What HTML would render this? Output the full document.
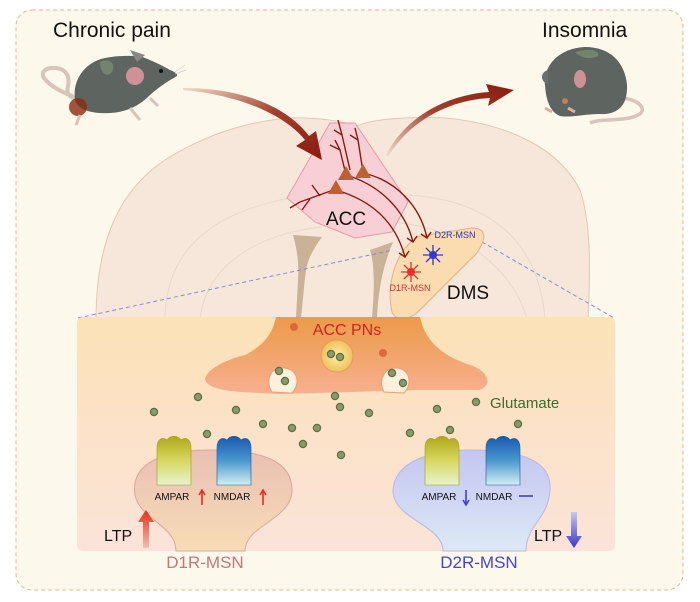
<!DOCTYPE html>
<html><head><meta charset="utf-8"><style>
html,body{margin:0;padding:0;background:#fff;}
svg{display:block;font-family:"Liberation Sans",sans-serif;}
</style></head><body>
<svg width="700" height="602" viewBox="0 0 700 602" xmlns="http://www.w3.org/2000/svg">
<defs>
<linearGradient id="panel" x1="0" y1="0" x2="0" y2="1"><stop offset="0" stop-color="#fce2b6"/><stop offset="1" stop-color="#fbe3da"/></linearGradient>
<linearGradient id="pre" x1="0" y1="0" x2="0" y2="1"><stop offset="0" stop-color="#ec9a48"/><stop offset="1" stop-color="#f7b090"/></linearGradient>
<linearGradient id="d1" x1="0" y1="0" x2="0" y2="1"><stop offset="0" stop-color="#e9c0b4"/><stop offset="1" stop-color="#f8dcb6"/></linearGradient>
<linearGradient id="d2" x1="0" y1="0" x2="0" y2="1"><stop offset="0" stop-color="#c4c6f0"/><stop offset="1" stop-color="#dce8f6"/></linearGradient>
<linearGradient id="amp" x1="0" y1="0" x2="0" y2="1"><stop offset="0" stop-color="#b0a818"/><stop offset="0.5" stop-color="#d8d860"/><stop offset="1" stop-color="#e6f2d0"/></linearGradient>
<linearGradient id="nmd" x1="0" y1="0" x2="0" y2="1"><stop offset="0" stop-color="#1a58b0"/><stop offset="0.5" stop-color="#4a98d0"/><stop offset="1" stop-color="#d4eef0"/></linearGradient>
<linearGradient id="arr1" x1="0" y1="0" x2="1" y2="1"><stop offset="0" stop-color="#f0dcc8"/><stop offset="0.5" stop-color="#a0402a"/><stop offset="1" stop-color="#8a1a0c"/></linearGradient>
<linearGradient id="arr2" x1="0" y1="1" x2="1" y2="0"><stop offset="0" stop-color="#f0e0d0"/><stop offset="0.5" stop-color="#a04030"/><stop offset="1" stop-color="#8a1a0c"/></linearGradient>
<linearGradient id="ltpr" x1="0" y1="1" x2="0" y2="0"><stop offset="0" stop-color="#f0c0b0"/><stop offset="1" stop-color="#e82a1a"/></linearGradient>
<linearGradient id="ltpb" x1="0" y1="0" x2="0" y2="1"><stop offset="0" stop-color="#c8c8f0"/><stop offset="1" stop-color="#3838c8"/></linearGradient>
<radialGradient id="nuc"><stop offset="0" stop-color="#fff0a0"/><stop offset="1" stop-color="#f0c060"/></radialGradient>
</defs>
<rect x="0" y="0" width="700" height="602" fill="#fff"/>
<rect x="16" y="10" width="667" height="580" rx="16" fill="#fdf8ec" stroke="#e0b890" stroke-dasharray="4,3" stroke-width="1"/>

<!-- brain -->
<path d="M96,320 C96,240 120,190 165,160 C200,138 240,122 290,118 C320,117 345,122 357,126 C370,120 400,116 446,118 C510,124 560,150 580,190 C592,225 590,280 588,320 Z" fill="#f6e7da" stroke="#e2c8b2"/>
<path d="M165,320 C165,260 200,215 290,198 C320,194 345,200 357,205 C370,198 400,194 420,196 C500,205 540,250 545,320" fill="none" stroke="#ead8c6"/>
<path d="M200,320 C205,270 250,235 322,227 M388,222 C460,225 515,270 527,320" fill="none" stroke="#ead8c6"/>
<path d="M293,235 L322,237 C314,248 308,258 306,270 C304,285 303,300 301,318 L296,318 C297,295 299,275 298,262 C297,250 295,242 293,235 Z" fill="#c9b295"/>
<path d="M393,242 L370,250 C374,262 375,285 372,318 L377,318 C378,290 384,262 393,242 Z" fill="#c9b295"/>

<!-- dashed zoom lines -->
<path d="M78,318 L393,250 M482,242 L614,318" stroke="#8a8ad0" stroke-dasharray="4,3" fill="none"/>

<!-- ACC -->
<path d="M330,123 L355,123 L408,202 L392,232 L355,238 L315,222 L287,198 Z" fill="#f7cfd4" stroke="#e49aa6"/>
<!-- DMS -->
<path d="M392,312 C385,282 398,246 420,236 L472,228 C488,228 486,240 476,254 L420,310 C408,322 395,320 392,312 Z" fill="#fbdcb0" stroke="#e8b080"/>

<!-- axons -->
<g stroke="#8a1a10" fill="none" stroke-width="1.4">
<path d="M336,190 C370,200 395,220 405,257"/>
<path d="M346,175 C380,185 405,210 413,242"/>
<path d="M363,173 C395,180 420,205 427,238"/>
<path d="M336,189 L300,202 M320,196 L312,185 M300,202 L290,208 M310,199 L302,210" />
<path d="M346,175 L340,150 L335,140 M340,150 L330,145" />
<path d="M350,170 L342,135 L338,120 M342,135 L334,130" />
<path d="M363,172 L358,140 L355,128 M358,140 L350,135" />
<path d="M399,253 L405,257 L409,251 M407,238 L413,242 L417,236 M421,234 L427,238 L431,232"/>
</g>
<g fill="#c06030"><path d="M336,180 L344,194 L328,194 Z"/><path d="M346,166 L354,180 L338,180 Z"/><path d="M363,164 L371,178 L355,178 Z"/></g>
<!-- small neurons -->
<g stroke="#e83030" stroke-width="1.3"><path d="M411,262 L411,282 M401,272 L421,272 M404,265 L418,279 M418,265 L404,279"/></g>
<circle cx="411" cy="272" r="4" fill="#e83030"/>
<g stroke="#3838c0" stroke-width="1.3"><path d="M433,245 L433,265 M423,255 L443,255 M426,248 L440,262 M440,248 L426,262"/></g>
<circle cx="433" cy="255" r="4" fill="#3838c0"/>
<text x="455" y="238" font-size="9" fill="#3030c0" text-anchor="middle">D2R-MSN</text>
<text x="410" y="291" font-size="9" fill="#d03030" text-anchor="middle">D1R-MSN</text>
<text x="346" y="225" font-size="19" fill="#111" text-anchor="middle">ACC</text>
<text x="468" y="299" font-size="19" fill="#111" text-anchor="middle">DMS</text>

<!-- big arrows -->
<path d="M183,90 C240,95 285,115 305,140 L296,146 L322,160 L316,131 L309,136 C288,108 245,88 183,88 Z" fill="url(#arr1)"/>
<path d="M388,157 C410,120 450,100 490,98 L488,106 L514,90 L486,84 L489,92 C445,95 405,118 386,155 Z" fill="url(#arr2)"/>

<!-- left mouse -->
<path d="M72,96 C62,92 50,86 44,78 C40,72 46,67 56,68 C66,69 70,76 68,86 C66,94 70,98 76,98" fill="none" stroke="#d8c4b8" stroke-width="4" stroke-linecap="round"/>
<path d="M75,100 C72,80 85,62 105,58 C120,55 130,56 140,56 C150,60 160,64 170,70 C175,72 178,74 177,76 C170,80 160,86 150,95 C140,105 128,112 110,113 C92,114 78,110 75,100 Z" fill="#5e6460"/>
<path d="M100,62 C108,58 115,62 113,70 C110,78 100,76 100,62 Z" fill="#7e9070" opacity="0.7"/>
<path d="M130,50 L145,55 L137,62 Z" fill="#888"/>
<ellipse cx="135" cy="76" rx="9" ry="9" fill="#d09098"/>
<circle cx="161" cy="71" r="2" fill="#111"/>
<path d="M175,72 L185,65 M175,74 L186,70" stroke="#ccc" stroke-width="0.7"/>
<circle cx="78" cy="107" r="9" fill="#8a2a10" opacity="0.8"/>
<path d="M130,108 L140,120 M150,98 L158,106 M80,115 L76,125" stroke="#d8c4b8" stroke-width="3"/>

<!-- right mouse -->
<path d="M622,98 C640,100 648,110 638,115 C625,122 600,118 590,123" fill="none" stroke="#d8c4b8" stroke-width="3.5"/>
<path d="M545,85 C543,65 560,48 585,47 C610,47 625,62 627,85 C628,105 618,115 600,114 C585,114 570,118 560,116 C550,112 546,100 545,85 Z" fill="#5e6460"/>
<path d="M575,52 C590,48 600,50 598,56 C590,60 580,58 575,52 Z" fill="#7e9070" opacity="0.7"/>
<path d="M548,70 C540,72 540,82 548,84 Z" fill="#6a706a"/>
<ellipse cx="580" cy="79" rx="6" ry="9" fill="#d09098"/>
<circle cx="565" cy="101" r="3" fill="#c08060"/>
<path d="M545,108 L552,112 M568,108 L575,112" stroke="#e0b0a0" stroke-width="3"/>

<text x="53" y="37" font-size="21" fill="#111">Chronic pain</text>
<text x="542" y="37" font-size="21" fill="#111">Insomnia</text>

<!-- panel -->
<rect x="77" y="317" width="538" height="234" rx="6" fill="url(#panel)"/>
<!-- presynaptic -->
<path d="M276,317 L420,317 C425,340 440,355 470,365 C490,372 492,385 480,390 L420,390 L280,394 C240,392 210,392 205,380 C205,370 225,360 245,355 C265,345 273,332 276,317 Z" fill="url(#pre)"/>
<path d="M272,392 C265,380 270,368 283,368 C296,368 302,382 292,393 Z" fill="#fdf0dc" stroke="#e8a070"/>
<path d="M384,392 C378,380 384,368 396,368 C408,368 414,382 404,393 Z" fill="#fdf0dc" stroke="#e8a070"/>
<ellipse cx="337" cy="356" rx="16" ry="16" fill="url(#nuc)" stroke="#e0a050"/>
<circle cx="294" cy="327" r="4" fill="#d85030" opacity="0.7"/>
<circle cx="383" cy="353" r="4" fill="#d85030" opacity="0.7"/>
<text x="347" y="335" font-size="16" fill="#c8281e" text-anchor="middle">ACC PNs</text>

<!-- postsynaptic -->
<path d="M176,551 C176,525 140,520 135,495 C130,462 165,450 212,450 C260,450 292,460 292,490 C292,520 245,525 245,551 Z" fill="url(#d1)" stroke="#d8a8a0"/>
<path d="M443,551 C443,525 395,520 393,492 C393,462 430,450 470,450 C520,450 552,460 550,490 C548,520 526,525 526,551 Z" fill="url(#d2)" stroke="#b8b8e0"/>

<!-- receptors -->
<g>
<path d="M157,485 L157,448 C157,438 163,437 167,440 C170,435 178,435 181,440 C185,437 191,438 191,448 L191,485 Z" fill="url(#amp)" stroke="#a09820" stroke-width="0.6"/>
<path d="M217,485 L217,448 C217,438 223,437 227,440 C230,435 238,435 241,440 C245,437 251,438 251,448 L251,485 Z" fill="url(#nmd)" stroke="#1a58a0" stroke-width="0.6"/>
<path d="M425,485 L425,448 C425,438 431,437 435,440 C438,435 446,435 449,440 C453,437 459,438 459,448 L459,485 Z" fill="url(#amp)" stroke="#a09820" stroke-width="0.6"/>
<path d="M486,485 L486,448 C486,438 492,437 496,440 C499,435 507,435 510,440 C514,437 520,438 520,448 L520,485 Z" fill="url(#nmd)" stroke="#1a58a0" stroke-width="0.6"/>
</g>
<g font-size="10" fill="#111" text-anchor="middle">
<text x="172" y="500">AMPAR</text><text x="232" y="500">NMDAR</text>
<text x="439" y="500">AMPAR</text><text x="494" y="500">NMDAR</text>
</g>
<path d="M202,505 L202,492 M199,495 L202,490 L205,495" stroke="#e03020" stroke-width="1.6" fill="none"/>
<path d="M263,505 L263,492 M260,495 L263,490 L266,495" stroke="#e03020" stroke-width="1.6" fill="none"/>
<path d="M466,490 L466,503 M463,500 L466,505 L469,500" stroke="#4040d0" stroke-width="1.6" fill="none"/>
<path d="M519,496 L533,496" stroke="#4040d0" stroke-width="1.6"/>

<!-- LTP -->
<text x="104" y="541" font-size="16" fill="#111">LTP</text>
<path d="M143,548 L143,522 L138,522 L146,510 L154,522 L149,522 L149,548 Z" fill="url(#ltpr)"/>
<text x="534" y="541" font-size="16" fill="#111">LTP</text>
<path d="M571,512 L577,512 L577,536 L582,536 L574,548 L566,536 L571,536 Z" fill="url(#ltpb)"/>

<text x="205" y="568" font-size="17" fill="#c07878" text-anchor="middle">D1R-MSN</text>
<text x="479" y="568" font-size="17" fill="#4646d0" text-anchor="middle">D2R-MSN</text>

<!-- glutamate -->
<g fill="#8a9a6c" stroke="#5a7040" stroke-width="1.2">
<circle cx="198" cy="397" r="3.6"/><circle cx="154" cy="412" r="3.6"/><circle cx="236" cy="410" r="3.6"/>
<circle cx="263" cy="424" r="3.6"/><circle cx="207" cy="434" r="3.6"/><circle cx="292" cy="428" r="3.6"/>
<circle cx="317" cy="428" r="3.6"/><circle cx="303" cy="444" r="3.6"/><circle cx="335" cy="396" r="3.6"/>
<circle cx="340" cy="407" r="3.6"/><circle cx="369" cy="413" r="3.6"/><circle cx="341" cy="455" r="3.6"/>
<circle cx="410" cy="433" r="3.6"/><circle cx="437" cy="409" r="3.6"/><circle cx="450" cy="430" r="3.6"/>
<circle cx="476" cy="402" r="3.6"/><circle cx="518" cy="424" r="3.6"/>
<circle cx="279" cy="371" r="3.6"/><circle cx="285" cy="381" r="3.6"/><circle cx="392" cy="373" r="3.6"/><circle cx="403" cy="383" r="3.6"/>
<circle cx="331" cy="354" r="3.6"/><circle cx="340" cy="357" r="3.6"/>
</g>
<text x="490" y="408" font-size="15" fill="#3d6b2a">Glutamate</text>
</svg>
</body></html>
